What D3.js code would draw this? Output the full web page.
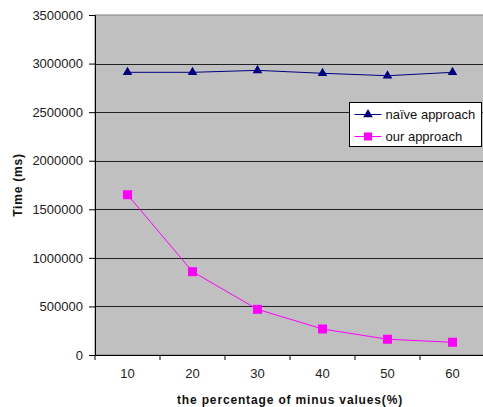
<!DOCTYPE html>
<html>
<head>
<meta charset="utf-8">
<script src="https://cdn.jsdelivr.net/npm/d3@7"></script>
<style>
  body { margin: 0; background: #fff; }
  text { font-family: "Liberation Sans", Arial, sans-serif; }
</style>
</head>
<body>
<svg id="chart" width="483" height="407"></svg>
<script>
// values
const categories = ['10', '20', '30', '40', '50', '60']
const naive = [2910000, 2910000, 2930000, 2900000, 2875000, 2910000]
const ours = [1650000, 858000, 470000, 268000, 162000, 131000]
const yTicks = [0, 500000, 1000000, 1500000, 2000000, 2500000, 3000000, 3500000]

const margin = { top: 15, right: -2, bottom: 52, left: 95 }
const width = 483 - margin.left - margin.right
const height = 407 - margin.top - margin.bottom

const svg = d3.select('#chart')
const g = svg.append('g')
  .attr('transform', 'translate(' + margin.left + ',' + margin.top + ')')

const x = d3.scaleBand().domain(categories).range([0, width])
const y = d3.scaleLinear().domain([0, 3500000]).range([height, 0])

// plot area
g.append('rect')
  .attr('width', width)
  .attr('height', height)
  .attr('fill', '#c0c0c0')
  .attr('stroke', '#808080')

g.selectAll('.grid')
  .data(yTicks.slice(1, -1))
  .enter().append('line')
  .attr('class', 'grid')
  .attr('x1', 0).attr('x2', width)
  .attr('y1', d => Math.round(y(d)) + 0.5)
  .attr('y2', d => Math.round(y(d)) + 0.5)
  .attr('stroke', '#222')

// axes
const yAxis = g.append('g')
  .call(d3.axisLeft(y).tickValues(yTicks).tickFormat(d3.format('d')).tickSize(6).tickPadding(6))
yAxis.select('.domain').attr('stroke', '#000')
yAxis.selectAll('text').attr('font-size', 13).attr('fill', '#222')

const xAxis = g.append('g')
  .attr('transform', 'translate(0,' + height + ')')
  .call(d3.axisBottom(x).tickSize(0).tickPadding(14))
xAxis.select('.domain').attr('stroke', '#000')
xAxis.selectAll('text').attr('font-size', 13).attr('fill', '#222')

// category separators on the x axis
g.selectAll('.xtick')
  .data(categories.concat(['end']))
  .enter().append('line')
  .attr('class', 'xtick')
  .attr('x1', (d, i) => i * x.step()).attr('x2', (d, i) => i * x.step())
  .attr('y1', height).attr('y2', height + 5)
  .attr('stroke', '#000')

// titles
svg.append('text')
  .attr('transform', 'translate(22,' + (margin.top + height / 2) + ') rotate(-90)')
  .attr('text-anchor', 'middle')
  .attr('font-size', 12)
  .attr('font-weight', 'bold')
  .attr('letter-spacing', 0.8)
  .attr('fill', '#111')
  .text('Time (ms)')

svg.append('text')
  .attr('x', margin.left + width / 2)
  .attr('y', 404)
  .attr('text-anchor', 'middle')
  .attr('font-size', 12)
  .attr('font-weight', 'bold')
  .attr('letter-spacing', 0.85)
  .attr('fill', '#111')
  .text('the percentage of minus values(%)')

// series
const cx = (d, i) => x(categories[i]) + x.bandwidth() / 2

const line = d3.line()
  .x(cx)
  .y(d => y(d))

g.append('path')
  .datum(naive)
  .attr('d', line)
  .attr('fill', 'none')
  .attr('stroke', '#000080')
  .attr('stroke-width', 1)

g.append('path')
  .datum(ours)
  .attr('d', line)
  .attr('fill', 'none')
  .attr('stroke', '#ff00ff')
  .attr('stroke-width', 1)

const tri = d3.symbol().type(d3.symbolTriangle).size(40)

g.selectAll('.naive')
  .data(naive)
  .enter().append('path')
  .attr('class', 'naive')
  .attr('d', tri)
  .attr('transform', (d, i) => 'translate(' + cx(d, i) + ',' + y(d) + ')')
  .attr('fill', '#000080')

g.selectAll('.ours')
  .data(ours)
  .enter().append('rect')
  .attr('class', 'ours')
  .attr('x', (d, i) => cx(d, i) - 4.5)
  .attr('y', d => y(d) - 4.5)
  .attr('width', 9)
  .attr('height', 9)
  .attr('fill', '#ff00ff')

// legend
const legend = svg.append('g').attr('transform', 'translate(349.5,102.5)')

legend.append('rect')
  .attr('width', 132)
  .attr('height', 44)
  .attr('fill', '#fff')
  .attr('stroke', '#000')

const items = [
  { label: 'naïve approach', color: '#000080', mark: 'tri' },
  { label: 'our approach', color: '#ff00ff', mark: 'sq' }
]

const li = legend.selectAll('.item')
  .data(items)
  .enter().append('g')
  .attr('transform', (d, i) => 'translate(0,' + (12 + i * 22) + ')')

li.append('line')
  .attr('x1', 5).attr('x2', 32)
  .attr('stroke', d => d.color)

li.append('path')
  .attr('d', d => d.mark == 'tri' ? tri() : d3.symbol().type(d3.symbolSquare).size(64)())
  .attr('transform', 'translate(18.5,0)')
  .attr('fill', d => d.color)

li.append('text')
  .attr('x', 36)
  .attr('dy', '0.35em')
  .attr('font-size', 13)
  .attr('fill', '#111')
  .text(d => d.label)
</script>
</body>
</html>
